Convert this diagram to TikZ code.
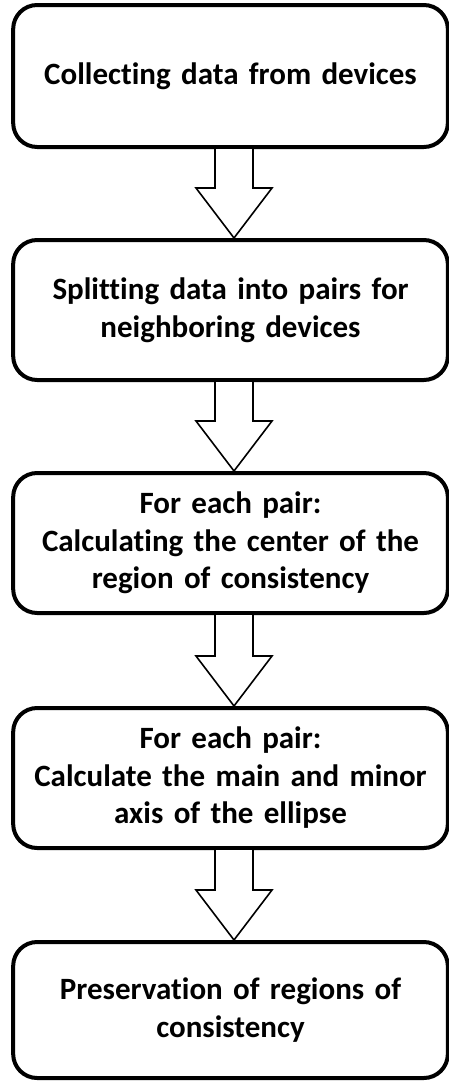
\documentclass[tikz,border=0pt]{standalone}
\usepackage{fontspec}
\setmainfont{Carlito}[Ligatures=NoCommon]
\usetikzlibrary{calc}
\begin{document}
\begin{tikzpicture}[x=1pt,y=-1pt,
  stepbox/.style={draw=black, fill=white, line width=4pt, rounded corners=24pt,
    minimum width=433pt, align=center, text width=428pt,
    font=\fontsize{31pt}{37.5pt}\selectfont\bfseries},
  blockarrow/.style={draw=black, fill=white, line width=1.6pt, line join=miter}]
\useasboundingbox (0,0) rectangle (449,1082);

% process steps
\node[stepbox, minimum height=142pt] (b1) at (230.5,76) {Collecting data from devices};
\node[stepbox, minimum height=140pt] (b2) at (230.5,310) {Splitting data into pairs for\\neighboring devices};
\node[stepbox, minimum height=140pt] (b3) at (230.5,543) {For each pair:\\Calculating the center of the\\region of consistency};
\node[stepbox, minimum height=140pt] (b4) at (230.5,778) {For each pair:\\Calculate the main and minor\\axis of the ellipse};
\node[stepbox, minimum height=136pt] (b5) at (230.5,1010) {Preservation of regions of\\consistency};

% hollow block arrows between steps
\foreach \a/\b in {b1/b2, b2/b3, b3/b4, b4/b5}{
  \draw[blockarrow]
    let \p1=([xshift=3.5pt]\a.south), \p2=([xshift=3.5pt]\b.north) in
    (\x1-19pt,\y1) -- (\x1-19pt,\y2+50pt) -- (\x1-38pt,\y2+50pt) -- (\x2,\y2)
    -- (\x1+38pt,\y2+50pt) -- (\x1+19pt,\y2+50pt) -- (\x1+19pt,\y1);
}
\end{tikzpicture}
\end{document}
